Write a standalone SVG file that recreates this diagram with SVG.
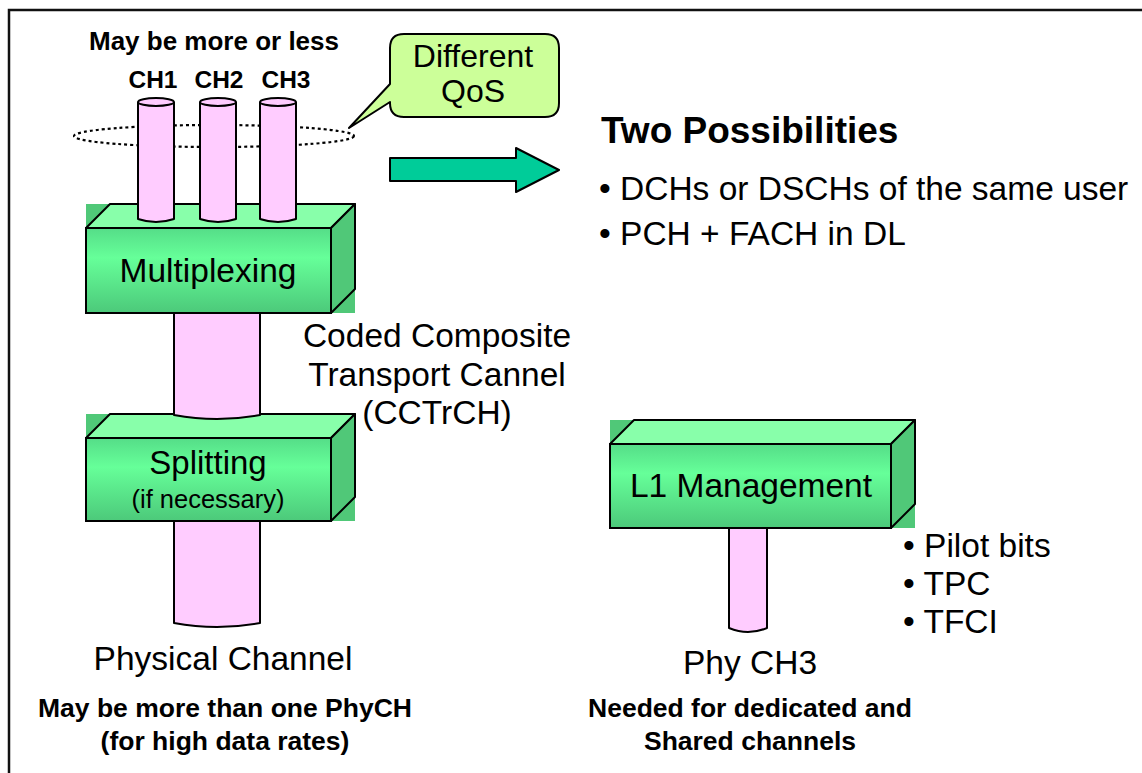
<svg xmlns="http://www.w3.org/2000/svg" width="1142" height="773" viewBox="0 0 1142 773">
  <style>
    .t { font-family: "Liberation Sans", Arial, sans-serif; fill: #000; }
    .b { font-weight: bold; }
    .ln { stroke: #000; stroke-width: 2; stroke-linejoin: round; }
    .tube { fill: #FFCCFF; stroke: #000; stroke-width: 2; stroke-linejoin: round; }
    .corner { fill: #50C878; }
    .top { fill: #88FFAA; stroke: #000; stroke-width: 2; stroke-linejoin: round; }
    .side { fill: #50C878; stroke: #000; stroke-width: 2; stroke-linejoin: round; }
    .front { fill: url(#faceGrad); stroke: #000; stroke-width: 2; }
  </style>
  <defs>
    <linearGradient id="faceGrad" x1="0" y1="0" x2="0" y2="1">
      <stop offset="0" stop-color="#55DD88"/>
      <stop offset="0.35" stop-color="#66FF99"/>
      <stop offset="1" stop-color="#4CC97A"/>
    </linearGradient>
  </defs>

  <rect width="1142" height="773" fill="#fff"/>
  <!-- page frame -->
  <rect x="9" y="10" width="1200" height="800" fill="none" stroke="#111" stroke-width="2.5"/>

  <!-- grouping ring around the transport channels -->
  <ellipse cx="214" cy="136" rx="140" ry="11" fill="none" stroke="#000" stroke-width="2.2" stroke-dasharray="3 3"/>

  <!-- Multiplexing block -->
  <g id="multiplexing">
    <rect class="corner" x="86" y="204" width="269" height="109"/>
    <polygon class="top" points="86,228 110,204 355,204 331,228"/>
    <polygon class="side" points="331,228 355,204 355,289 331,313"/>
    <rect class="front" x="86" y="228" width="245" height="85"/>
    <text class="t" x="208" y="282" font-size="33.5" text-anchor="middle">Multiplexing</text>
  </g>

  <!-- Splitting block -->
  <g id="splitting">
    <rect class="corner" x="86" y="414" width="269" height="107"/>
    <polygon class="top" points="86,438 110,414 355,414 331,438"/>
    <polygon class="side" points="331,438 355,414 355,497 331,521"/>
    <rect class="front" x="86" y="438" width="245" height="83"/>
    <text class="t" x="208" y="474" font-size="33" text-anchor="middle">Splitting</text>
    <text class="t" x="208" y="508" font-size="25.5" text-anchor="middle">(if necessary)</text>
  </g>

  <!-- L1 Management block -->
  <g id="l1-management">
    <rect class="corner" x="610" y="420" width="305" height="108"/>
    <polygon class="top" points="610,444 634,420 915,420 891,444"/>
    <polygon class="side" points="891,444 915,420 915,504 891,528"/>
    <rect class="front" x="610" y="444" width="281" height="84"/>
    <text class="t" x="751" y="497" font-size="33.5" text-anchor="middle">L1 Management</text>
  </g>

  <!-- channel tubes -->
  <g id="connectors">
    <g id="ch1">
      <path class="tube" d="M138,102 V219 Q156,225 174,219 V102"/>
      <ellipse class="tube" cx="156" cy="102" rx="18" ry="4"/>
    </g>
    <g id="ch2">
      <path class="tube" d="M200,102 V219 Q218,225 236,219 V102"/>
      <ellipse class="tube" cx="218" cy="102" rx="18" ry="4"/>
    </g>
    <g id="ch3">
      <path class="tube" d="M260,102 V219 Q278,225 296,219 V102"/>
      <ellipse class="tube" cx="278" cy="102" rx="18" ry="4"/>
    </g>
    <path id="cctrch" class="tube" d="M174,314 V415 Q217,423 260,415 V314"/>
    <path id="phych" class="tube" d="M174,522 V623 Q217,631 260,623 V522"/>
    <path id="phych3" class="tube" d="M729,529 V628 Q748,636 767,628 V529"/>
  </g>

  <!-- Different QoS callout -->
  <g id="qos-callout">
    <path class="ln" fill="#CCFF99" d="M404,34 H545 Q559,34 559,48 V103 Q559,117 545,117 H404 Q390,117 390,103 V102 L349,128 L390,84 V48 Q390,34 404,34 Z"/>
    <text class="t" x="473" y="67" font-size="32" text-anchor="middle">Different</text>
    <text class="t" x="473" y="102" font-size="32" text-anchor="middle">QoS</text>
  </g>

  <!-- block arrow -->
  <g id="arrow">
    <polygon class="ln" fill="#00CC99" stroke-width="1.6" points="390,158 516,158 516,148 559,170 516,192 516,181 390,181"/>
  </g>

  <!-- labels -->
  <g id="labels">
    <text class="t b" x="214" y="50" font-size="26" text-anchor="middle">May be more or less</text>
    <text class="t b" x="153" y="88" font-size="24.5" text-anchor="middle">CH1</text>
    <text class="t b" x="219" y="88" font-size="24.5" text-anchor="middle">CH2</text>
    <text class="t b" x="286" y="88" font-size="24.5" text-anchor="middle">CH3</text>

    <text class="t" x="437" y="347" font-size="33.5" text-anchor="middle">Coded Composite</text>
    <text class="t" x="437" y="386" font-size="33.5" text-anchor="middle">Transport Cannel</text>
    <text class="t" x="437" y="424" font-size="33.5" text-anchor="middle">(CCTrCH)</text>

    <text class="t" x="223" y="670" font-size="33.5" text-anchor="middle">Physical Channel</text>
    <text class="t b" x="225" y="717" font-size="26.5" text-anchor="middle">May be more than one PhyCH</text>
    <text class="t b" x="225" y="750" font-size="26.5" text-anchor="middle">(for high data rates)</text>

    <text class="t" x="750" y="674" font-size="33.5" text-anchor="middle">Phy CH3</text>
    <text class="t b" x="750" y="717" font-size="26.5" text-anchor="middle">Needed for dedicated and</text>
    <text class="t b" x="750" y="750" font-size="26.5" text-anchor="middle">Shared channels</text>

    <text class="t b" x="601" y="143" font-size="37">Two Possibilities</text>
    <text class="t" x="599" y="200" font-size="33.5">• DCHs or DSCHs of the same user</text>
    <text class="t" x="599" y="245" font-size="33.5">• PCH + FACH in DL</text>

    <text class="t" x="903" y="557" font-size="33.5">• Pilot bits</text>
    <text class="t" x="903" y="595" font-size="33.5">• TPC</text>
    <text class="t" x="903" y="633" font-size="33.5">• TFCI</text>
  </g>
</svg>
